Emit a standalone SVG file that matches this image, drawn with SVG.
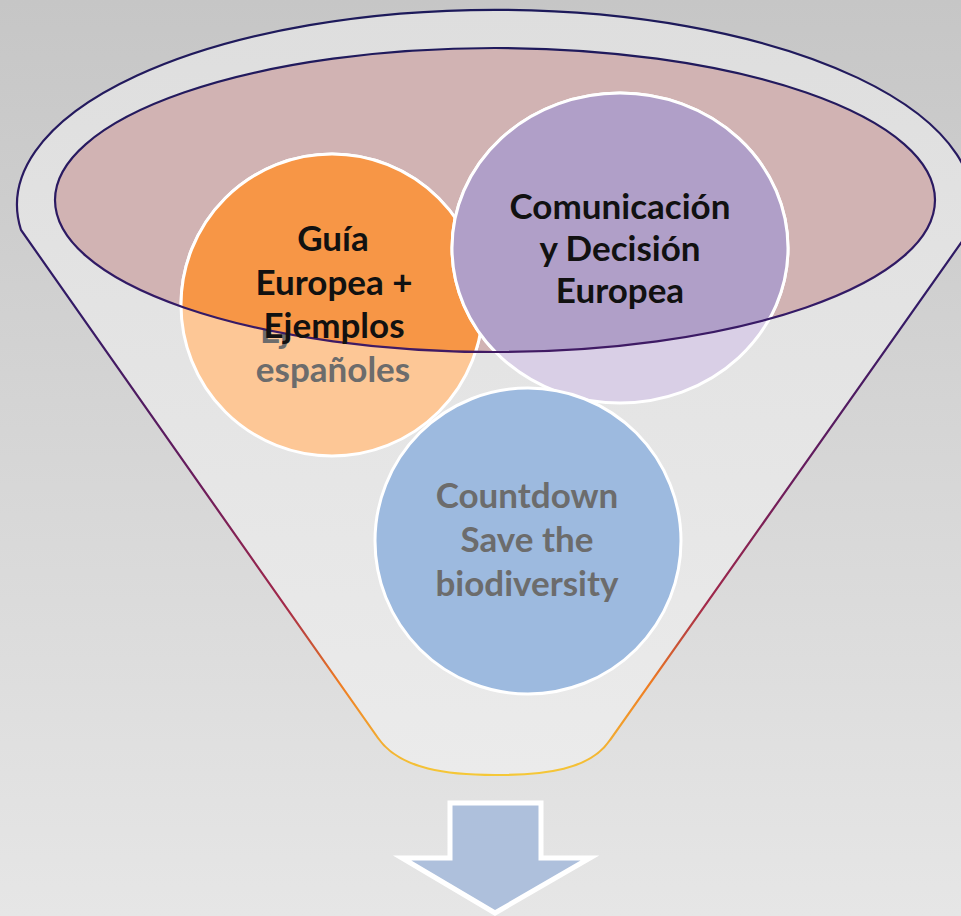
<svg xmlns="http://www.w3.org/2000/svg" width="961" height="916" viewBox="0 0 961 916">
  <defs>
    <linearGradient id="bg" x1="0" y1="0" x2="0" y2="1">
      <stop offset="0" stop-color="#c6c6c6"/>
      <stop offset="0.5" stop-color="#d6d6d6"/>
      <stop offset="1" stop-color="#e6e6e6"/>
    </linearGradient>
    <linearGradient id="funnelFill" x1="0" y1="0" x2="0" y2="1">
      <stop offset="0" stop-color="#dedede"/>
      <stop offset="1" stop-color="#ebebeb"/>
    </linearGradient>
    <linearGradient id="rim" gradientUnits="userSpaceOnUse" x1="0" y1="0" x2="0" y2="775">
      <stop offset="0" stop-color="#1c1a5a"/>
      <stop offset="0.4" stop-color="#331a66"/>
      <stop offset="0.62" stop-color="#6a1c5c"/>
      <stop offset="0.78" stop-color="#a2284a"/>
      <stop offset="0.88" stop-color="#ee7a22"/>
      <stop offset="1" stop-color="#f5c838"/>
    </linearGradient>
    <clipPath id="inner">
      <ellipse cx="495" cy="200" rx="440" ry="152"/>
    </clipPath>
    <style>
      .bubble { stroke: #ffffff; stroke-width: 3; }
      .lbl { font-family: Lato, "Liberation Sans", sans-serif; font-weight: bold; font-size: 35px; text-anchor: middle; }
      .dark { fill: #111111; }
      .grey { fill: #6c6c6c; }
    </style>
  </defs>

  <rect x="0" y="0" width="961" height="916" fill="url(#bg)"/>

  <g id="funnel">
    <path d="M21,230 A478,195 0 1 1 968,233 L610,740 C590,770 545,775 495,775 C450,775 400,770 378,738 Z" fill="url(#funnelFill)" stroke="url(#rim)" stroke-width="2.2"/>
    <ellipse cx="495" cy="200" rx="440" ry="152" fill="#d1b3b3"/>
  </g>

  <g id="node-guia">
    <circle class="bubble" cx="332" cy="305" r="151" fill="#fdc796"/>
    <text class="lbl grey" x="260" y="343" style="text-anchor:start">Ej</text>
    <text class="lbl grey" x="333" y="382">españoles</text>
    <circle class="bubble" cx="332" cy="305" r="151" fill="#f79646" clip-path="url(#inner)"/>
  </g>

  <g id="node-comunicacion">
    <ellipse class="bubble" cx="620" cy="248" rx="168" ry="155" fill="#d9cfe6"/>
    <ellipse class="bubble" cx="620" cy="248" rx="168" ry="155" fill="#b09fc8" clip-path="url(#inner)"/>
  </g>

  <g id="node-countdown">
    <circle class="bubble" cx="528" cy="541" r="153" fill="#9dbadf"/>
    <text class="lbl grey" x="527" y="508">Countdown</text>
    <text class="lbl grey" x="527" y="552">Save the</text>
    <text class="lbl grey" x="527" y="596">biodiversity</text>
  </g>

  <ellipse id="funnel-mouth" cx="495" cy="200" rx="440" ry="152" fill="none" stroke="url(#rim)" stroke-width="2.2"/>

  <g id="labels">
    <text class="lbl dark" x="333" y="251">Guía</text>
    <text class="lbl dark" x="334" y="295">Europea +</text>
    <text class="lbl dark" x="334" y="338">Ejemplos</text>
    <text class="lbl dark" x="620" y="219">Comunicación</text>
    <text class="lbl dark" x="620" y="261">y Decisión</text>
    <text class="lbl dark" x="620" y="303">Europea</text>
  </g>

  <g id="connectors">
    <polygon points="450,803 541,803 541,858 590,858 495,913 402,858 450,858" fill="#aec0dc" stroke="#ffffff" stroke-width="5" stroke-linejoin="miter"/>
  </g>
</svg>
